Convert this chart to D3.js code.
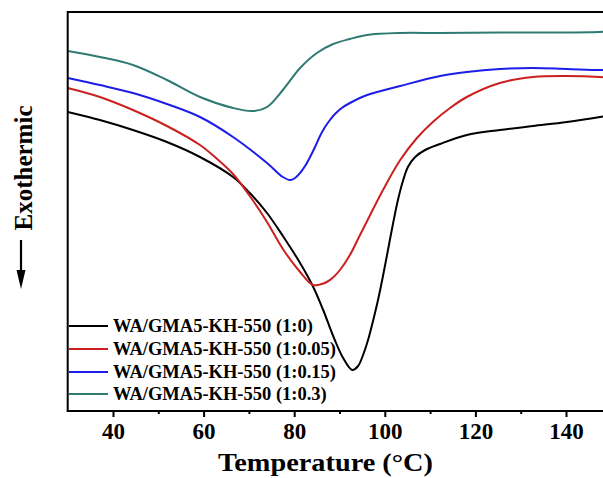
<!DOCTYPE html>
<html>
<head>
<meta charset="utf-8">
<script src="https://cdn.jsdelivr.net/npm/d3@7"></script>
<style>
  html, body { margin: 0; padding: 0; background: #fff; }
  svg { display: block; }
  text { font-family: "Times New Roman", "Liberation Serif", serif; font-weight: bold; fill: #000; }
</style>
</head>
<body>
<svg id="chart" width="603" height="478"></svg>
<script>
// DSC heating curves, heat flow in arbitrary units (endotherm pointing down)
const temp1 = [30, 37.1, 44.4, 51.9, 59.2, 66.5, 70.2, 74.0, 77.5, 81.3, 84.1, 86.4, 88.6, 90.8, 92.8, 94.1, 95.2, 96.3, 97.4, 98.5, 99.6, 100.7, 101.8, 102.9, 104.0, 105.1, 106.7, 108.9, 112.2, 118.1, 125.4, 132.7, 140.2, 147.5, 150];
const flow1 = [299, 291, 281, 269, 254, 234, 218, 198, 175, 148, 125, 101, 75, 53, 41, 45, 56, 71, 90, 111, 135, 161, 187, 211, 230, 244, 254, 261, 267, 276, 281, 285, 289, 294, 296];

const temp2 = [30, 37.1, 44.4, 51.9, 59.2, 63.0, 66.5, 70.2, 74.0, 77.5, 81.3, 84.1, 85.7, 87.2, 88.7, 90.1, 92.3, 94.2, 96.1, 99.6, 103.4, 107.1, 110.6, 114.4, 118.1, 125.4, 132.7, 140.2, 147.5, 150];
const flow2 = [323, 314, 301, 285, 266, 252, 237, 215, 189, 162, 139, 126, 126.5, 129, 134, 141, 156, 173, 190, 221, 251, 273, 289, 303, 314, 328, 334, 335, 334, 333];

const temp3 = [30, 37.1, 44.4, 51.9, 59.2, 66.5, 74.0, 77.5, 79.1, 80.2, 81.3, 82.4, 83.5, 84.6, 85.7, 86.8, 87.9, 89.0, 90.5, 92.3, 96.1, 103.4, 112.2, 118.1, 125.4, 132.7, 140.2, 147.5, 150];
const flow3 = [333, 326, 318, 307, 294, 274, 248, 234, 231, 233, 238, 245, 254, 264, 275, 284, 291, 297, 303, 308, 316, 325, 335, 339, 342, 343, 342, 341, 341];

const temp4 = [30, 37.1, 44.4, 51.9, 59.2, 66.5, 70.9, 74.0, 77.5, 81.3, 85.0, 88.6, 92.3, 96.1, 103.4, 112.2, 125.4, 147.4, 150];
const flow4 = [360, 354, 346, 331, 314, 303, 300, 304, 321, 343, 358, 367, 372, 376, 378, 378, 378.5, 379, 380];

const seriesNames = ["WA/GMA5-KH-550 (1:0)", "WA/GMA5-KH-550 (1:0.05)", "WA/GMA5-KH-550 (1:0.15)", "WA/GMA5-KH-550 (1:0.3)"];
const seriesColors = ["#000000", "#cc1f1f", "#1d1de8", "#2f7a72"];

const majorTicks = [40, 60, 80, 100, 120, 140];
const minorTicks = [50, 70, 90, 110, 130, 150];

const xLabel = "Temperature (\u00B0C)";
const yLabel = "Exothermic";

const series = [
  { name: seriesNames[0], color: seriesColors[0], pts: temp1.map((t, i) => [t, flow1[i]]) },
  { name: seriesNames[1], color: seriesColors[1], pts: temp2.map((t, i) => [t, flow2[i]]) },
  { name: seriesNames[2], color: seriesColors[2], pts: temp3.map((t, i) => [t, flow3[i]]) },
  { name: seriesNames[3], color: seriesColors[3], pts: temp4.map((t, i) => [t, flow4[i]]) }
];

const svg = d3.select("#chart");
const plotLeft = 67.7, plotTop = 12, plotBottom = 411;

// the plot frame runs past the right edge of the page
const x = d3.scaleLinear().domain([30, 150]).range([plotLeft, plotLeft + 120 * 4.53]);
const y = d3.scaleLinear().domain([0, 399]).range([plotBottom, plotTop]);

svg.append("defs").append("clipPath").attr("id", "plotclip")
  .append("rect").attr("x", plotLeft).attr("y", plotTop).attr("width", 600).attr("height", plotBottom - plotTop);

const line = d3.line()
  .x(d => x(d[0]))
  .y(d => y(d[1]))
  .curve(d3.curveCatmullRom.alpha(0.5));

const plot = svg.append("g").attr("clip-path", "url(#plotclip)");
plot.selectAll("path.curve")
  .data(series)
  .join("path")
  .attr("class", "curve")
  .attr("fill", "none")
  .attr("stroke", d => d.color)
  .attr("stroke-width", 2)
  .attr("stroke-linejoin", "round")
  .attr("d", d => line(d.pts));

// frame: top and left edges
svg.append("line").attr("x1", plotLeft).attr("x2", 603).attr("y1", plotTop).attr("y2", plotTop)
  .attr("stroke", "#000").attr("stroke-width", 2);
svg.append("line").attr("x1", plotLeft).attr("x2", plotLeft).attr("y1", plotTop - 1).attr("y2", plotBottom)
  .attr("stroke", "#000").attr("stroke-width", 2);

// bottom axis with outward major and minor ticks
const xAxis = d3.axisBottom(x).tickValues(majorTicks).tickSize(6).tickPadding(6).tickFormat(d3.format("d"));
const gx = svg.append("g").attr("transform", `translate(0,${plotBottom})`).call(xAxis);
gx.select(".domain").attr("stroke-width", 2).attr("d", `M${plotLeft - 1},0H${x(150)}`);
gx.selectAll(".tick line").attr("stroke-width", 2);
gx.selectAll(".tick text").attr("font-size", 23).attr("font-family", "'Times New Roman','Liberation Serif',serif").attr("font-weight", "bold").attr("fill", "#000");

const xMinor = d3.axisBottom(x).tickValues(minorTicks).tickSize(3).tickFormat("");
const gm = svg.append("g").attr("transform", `translate(0,${plotBottom})`).call(xMinor);
gm.select(".domain").remove();
gm.selectAll(".tick line").attr("stroke-width", 2);

svg.append("text")
  .attr("x", 218).attr("y", 471)
  .attr("font-size", 26)
  .attr("textLength", 215)
  .attr("lengthAdjust", "spacingAndGlyphs")
  .text(xLabel);

// y label with arrow pointing down
svg.append("text")
  .attr("transform", "translate(32,168) rotate(-90)")
  .attr("text-anchor", "middle")
  .attr("font-size", 25)
  .text(yLabel);
svg.append("line").attr("x1", 21).attr("x2", 21).attr("y1", 240).attr("y2", 274)
  .attr("stroke", "#000").attr("stroke-width", 2.2);
svg.append("path").attr("d", "M16.5,270 L25.5,270 L21,289 Z").attr("fill", "#000");

// legend
const legendRows = [326, 349, 372, 394];
const lg = svg.append("g");
series.forEach((s, i) => {
  lg.append("line")
    .attr("x1", 69).attr("x2", 108)
    .attr("y1", legendRows[i]).attr("y2", legendRows[i])
    .attr("stroke", s.color).attr("stroke-width", 2);
  lg.append("text")
    .attr("x", 113).attr("y", legendRows[i])
    .attr("dy", "0.35em")
    .attr("font-size", 18.5)
    .text(s.name);
});
</script>
</body>
</html>
